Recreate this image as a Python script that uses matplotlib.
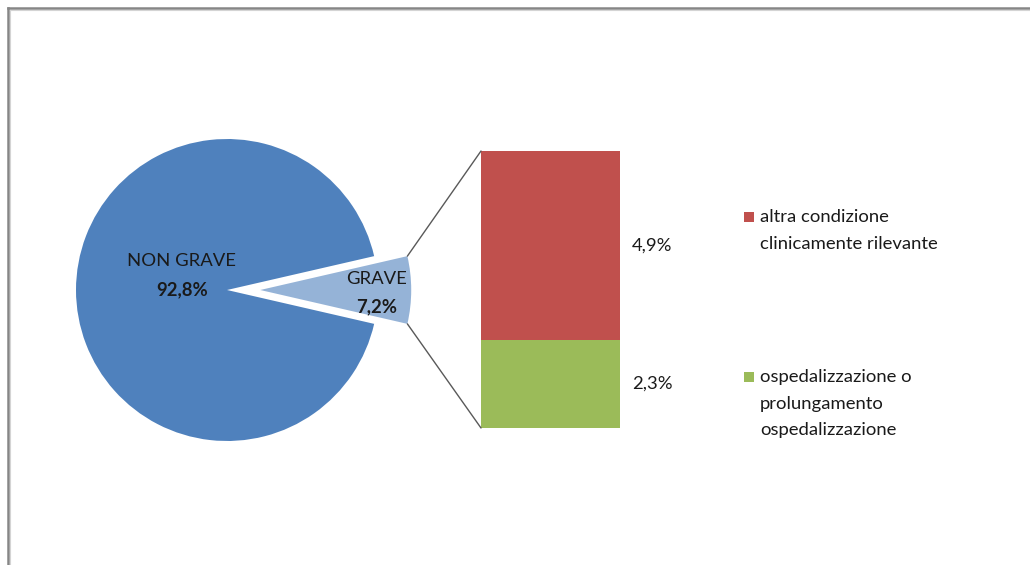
import numpy as np
import matplotlib
matplotlib.use("Agg")
import matplotlib.pyplot as plt
from matplotlib.patches import ConnectionPatch, Rectangle
from matplotlib.lines import Line2D

plt.rcParams['font.family'] = ['Lato', 'DejaVu Sans']

# data
pie_labels = ["GRAVE", "NON GRAVE"]
pie_values = [7.2, 92.8]
pie_colors = ["#95B3D7", "#4F81BD"]

bar_labels = ["ospedalizzazione o\nprolungamento\nospedalizzazione",
              "altra condizione\nclinicamente rilevante"]
bar_values = [2.3, 4.9]
bar_colors = ["#9BBB59", "#C0504D"]

W, H = 1030, 565
fig = plt.figure(figsize=(W / 100, H / 100), dpi=100)
txt = "#1a1a1a"
fs = 13.3


def px_axes(x0, y0, w, h):
    # pixel box (top-left origin) -> figure axes
    return fig.add_axes([x0 / W, 1 - (y0 + h) / H, w / W, h / H])


# pie: center (227, 290), radius 151 px
r = 151
ax = px_axes(227 - r, 290 - r, 2.3 * r, 2 * r)
half = pie_values[0] / 100 * 360 / 2
expl = 0.22
ax.pie(pie_values, colors=pie_colors, startangle=-half, counterclock=True,
       explode=[expl, 0], radius=1, frame=True,
       wedgeprops=dict(linewidth=0))
ax.set_xlim(-1, 1.3)
ax.set_ylim(-1, 1)
ax.set_aspect("auto")
ax.axis("off")

ax.text(-0.30, 0.19, pie_labels[1], ha="center", va="center", fontsize=fs, color=txt)
ax.text(-0.30, 0.0, f"{pie_values[1]:.1f}%".replace(".", ","), ha="center",
        va="center", fontsize=fs, fontweight="bold", color=txt)
ax.text(0.99, 0.07, pie_labels[0], ha="center", va="center", fontsize=fs, color=txt)
ax.text(0.99, -0.11, f"{pie_values[0]:.1f}%".replace(".", ","), ha="center",
        va="center", fontsize=fs, fontweight="bold", color=txt)

# stacked bar
ax2 = px_axes(481, 151, 139, 277)
bottom = 0
for v, c in zip(bar_values, bar_colors):
    ax2.bar([0], [v], bottom=bottom, width=1, color=c, linewidth=0)
    ax2.text(0.5 + 12 / 139, bottom + v / 2, f"{v:.1f}%".replace(".", ","),
             ha="left", va="center", fontsize=fs, color=txt, clip_on=False)
    bottom += v
ax2.set_xlim(-0.5, 0.5)
ax2.set_ylim(0, sum(bar_values))
ax2.axis("off")

# connector lines
a = np.radians(half)
for sgn, yb in [(1, sum(bar_values)), (-1, 0)]:
    xa = expl + np.cos(a)
    ya = sgn * np.sin(a)
    con = ConnectionPatch(xyA=(xa, ya), coordsA=ax.transData,
                          xyB=(-0.5, yb), coordsB=ax2.transData,
                          color="#595959", lw=1)
    fig.add_artist(con)

# legend (manual)
leg_y = [377, 217]
for lab, c, y in zip(bar_labels, bar_colors, leg_y):
    fig.add_artist(Rectangle((744 / W, 1 - (y + 5) / H), 10 / W, 10 / H,
                             transform=fig.transFigure, color=c, lw=0))
    lines = lab.split("\n")
    for i, ln in enumerate(lines):
        fig.text(760 / W, 1 - (y + i * 26.5) / H, ln, ha="left", va="center",
                 fontsize=fs, color=txt)

# chart frame (top and left edges visible)
fig.add_artist(Line2D([8 / W, 8 / W], [0, 1 - 8 / H], transform=fig.transFigure,
                      color="#868686", lw=1.8))
fig.add_artist(Line2D([8 / W, 1], [1 - 8 / H, 1 - 8 / H], transform=fig.transFigure,
                      color="#868686", lw=1.8))
fig.add_artist(Line2D([10 / W, 10 / W], [0, 1 - 10 / H], transform=fig.transFigure,
                      color="#d4d4d4", lw=0.8))
fig.add_artist(Line2D([10 / W, 1], [1 - 10 / H, 1 - 10 / H], transform=fig.transFigure,
                      color="#d4d4d4", lw=0.8))

fig.savefig("out.png", dpi=100)
